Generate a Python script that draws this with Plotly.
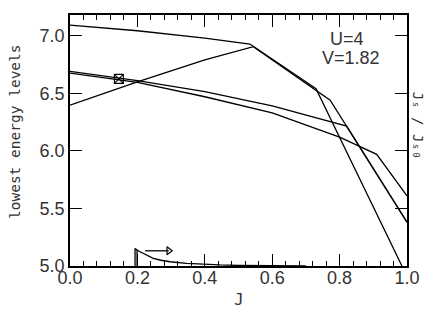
import plotly.graph_objects as go

# energy levels vs J
J_A = [0, 0.2, 0.4, 0.534, 0.73, 0.985]
E_A = [7.092, 7.043, 6.98, 6.928, 6.54, 5.0]
J_B = [0, 0.2, 0.4, 0.544, 0.772, 1.0]
E_B = [6.397, 6.60, 6.79, 6.905, 6.44, 5.38]
J_C = [0, 0.2, 0.4, 0.6, 0.821, 1.0]
E_C = [6.69, 6.61, 6.515, 6.39, 6.215, 5.38]
J_D = [0, 0.2, 0.4, 0.6, 0.8, 0.91, 1.0]
E_D = [6.675, 6.595, 6.47, 6.33, 6.12, 5.97, 5.61]

# marked point
J_mark = [0.145]
E_mark = [6.625]

# Js/Js0 curve (read in left-axis units)
J_js = [0.193, 0.193, 0.205, 0.223, 0.247, 0.27, 0.297, 0.346, 0.396, 0.445, 0.5, 0.6, 0.7]
E_js = [5.0, 5.152, 5.128, 5.10, 5.066, 5.05, 5.037, 5.023, 5.015, 5.009, 5.005, 5.002, 5.0]
J_js2 = [0.199, 0.199]
E_js2 = [5.0, 5.138]
# arrow
J_arr = [0.223, 0.293]
E_arr = [5.132, 5.132]
J_head = [0.293]
E_head = [5.132]

line = dict(color="black", width=1.3)
fig = go.Figure()
for jx, ey in [(J_A, E_A), (J_B, E_B), (J_C, E_C), (J_D, E_D), (J_js, E_js), (J_js2, E_js2), (J_arr, E_arr)]:
    fig.add_trace(go.Scatter(x=jx, y=ey, mode="lines", line=line, showlegend=False))
fig.add_trace(go.Scatter(x=J_mark, y=E_mark, mode="markers",
                         marker=dict(symbol="square-x-open", size=9, color="black",
                                     line=dict(width=1.1, color="black")), showlegend=False))
fig.add_trace(go.Scatter(x=J_head, y=E_head, mode="markers",
                         marker=dict(symbol="triangle-right-open", size=7, color="black",
                                     line=dict(width=1.2, color="black")), showlegend=False))

fig.update_layout(
    width=428, height=306,
    margin=dict(l=62, r=29, t=5, b=48),
    font=dict(family="Liberation Sans", size=18, color="#333"),
    paper_bgcolor="white", plot_bgcolor="white",
    xaxis=dict(range=[0, 1], dtick=0.2, tickformat=".1f", ticks="inside", ticklen=12, tickwidth=1.2,
               tickcolor="black", showline=True, linecolor="black", linewidth=1.5, mirror="ticks",
               showgrid=False, zeroline=False, ticklabelstandoff=-5,
               minor=dict(dtick=0.04, ticks="inside", ticklen=5)),
    yaxis=dict(range=[5.0, 7.18], dtick=0.5, tickformat=".1f", ticks="inside", ticklen=12, tickwidth=1.2,
               tickcolor="black", showline=True, linecolor="black", linewidth=1.5, mirror="ticks",
               showgrid=False, zeroline=False),
    annotations=[
        dict(x=0.501, y=-0.134, xref="paper", yref="paper", text="J", showarrow=False,
             xanchor="center", yanchor="middle", font=dict(family="DejaVu Sans Mono", size=16, color="#333")),
        dict(x=-0.163, y=0.534, xref="paper", yref="paper", text="lowest energy levels", showarrow=False,
             textangle=-90, xanchor="center", yanchor="middle",
             font=dict(family="DejaVu Sans Mono", size=14.5, color="#333")),
        dict(x=0.766, y=0.903, xref="paper", yref="paper", text="U=4", showarrow=False,
             xanchor="left", yanchor="middle", font=dict(family="Liberation Sans", size=18, color="#333")),
        dict(x=0.742, y=0.828, xref="paper", yref="paper", text="V=1.82", showarrow=False,
             xanchor="left", yanchor="middle", font=dict(family="Liberation Sans", size=18, color="#333")),
        dict(x=1.031, y=0.561, xref="paper", yref="paper", text="Jₛ / Jₛ₀",
             showarrow=False, textangle=90, xanchor="center", yanchor="middle",
             font=dict(family="DejaVu Sans Mono", size=14, color="#333")),
    ],
)
fig.write_html("out.html")
